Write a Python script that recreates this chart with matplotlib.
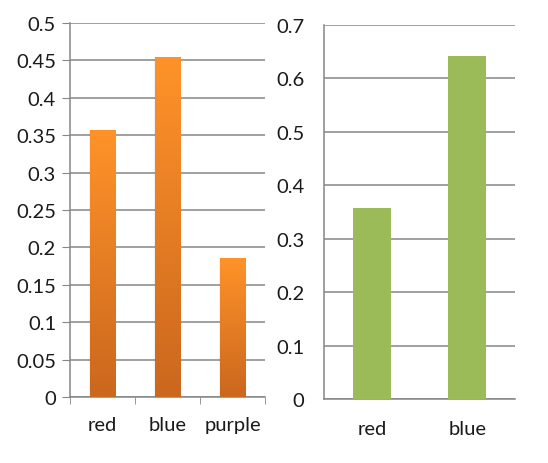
import numpy as np
import matplotlib
matplotlib.use("Agg")
from matplotlib import pyplot as plt
from matplotlib.colors import LinearSegmentedColormap

# data
cats_left = ["red", "blue", "purple"]
vals_left = [0.357, 0.455, 0.186]
cats_right = ["red", "blue"]
vals_right = [0.357, 0.642]

plt.rcParams['font.family'] = ['Lato', 'DejaVu Sans']
grid_c = "#868686"
txt_c = "#1a1a1a"

fig = plt.figure(figsize=(5.48, 4.64), dpi=100)
ax1 = fig.add_axes([70/548, 66/464, 195/548, 374/464])
ax2 = fig.add_axes([324/548, 64/464, 191/548, 374/464])

orange = LinearSegmentedColormap.from_list("og", ["#cb671e", "#ff9329"])

# left chart, gradient bars
x1 = np.arange(len(cats_left))
bars = ax1.bar(x1, vals_left, width=0.4, color="none", zorder=3)
grad = np.linspace(0, 1, 256).reshape(-1, 1)
for b in bars:
    x0, y0 = b.get_x(), b.get_y()
    w, h = b.get_width(), b.get_height()
    # soft shadow
    ax1.bar(x0 + w/2, h, width=w + 0.03, color="#000000", alpha=0.05, zorder=2)
    im = ax1.imshow(grad, cmap=orange, origin="lower", aspect="auto",
                    extent=[x0, x0 + w, y0, y0 + h], zorder=3)
    im.set_clip_path(b)
ax1.set_xlim(-0.5, 2.5)
ax1.set_ylim(0, 0.5)
ax1.set_yticks(np.arange(0, 0.51, 0.05))
ax1.set_yticklabels(["0", "0.05", "0.1", "0.15", "0.2", "0.25", "0.3", "0.35",
                     "0.4", "0.45", "0.5"])
ax1.set_xticks(x1)
ax1.set_xticklabels(cats_left)
ax1.set_xticks([-0.5, 0.5, 1.5, 2.5], minor=True)
ax1.tick_params(axis="x", which="major", length=0, pad=14)
ax1.tick_params(axis="x", which="minor", length=5, color=grid_c, direction="out")
ax1.tick_params(axis="y", length=6, color=grid_c, pad=4)

# right chart
x2 = np.arange(len(cats_right))
ax2.bar(x2, vals_right, width=0.4, color="#9bbb59", zorder=3)
ax2.set_xlim(-0.5, 1.5)
ax2.set_ylim(0, 0.7)
ax2.set_yticks(np.arange(0, 0.71, 0.1))
ax2.set_yticklabels(["0", "0.1", "0.2", "0.3", "0.4", "0.5", "0.6", "0.7"])
ax2.set_xticks(x2)
ax2.set_xticklabels(cats_right)
ax2.tick_params(axis="x", length=0, pad=15)
ax2.tick_params(axis="y", length=0, pad=14)

for ax in (ax1, ax2):
    ax.set_axisbelow(True)
    ax.grid(axis="y", color=grid_c, linewidth=1.1)
    for s in ("top", "right"):
        ax.spines[s].set_visible(False)
    for s in ("left", "bottom"):
        ax.spines[s].set_color(grid_c)
        ax.spines[s].set_linewidth(1.1)
    for lab in ax.get_xticklabels() + ax.get_yticklabels():
        lab.set_fontsize(14.5)
        lab.set_color(txt_c)

fig.savefig("out.png", dpi=100)
